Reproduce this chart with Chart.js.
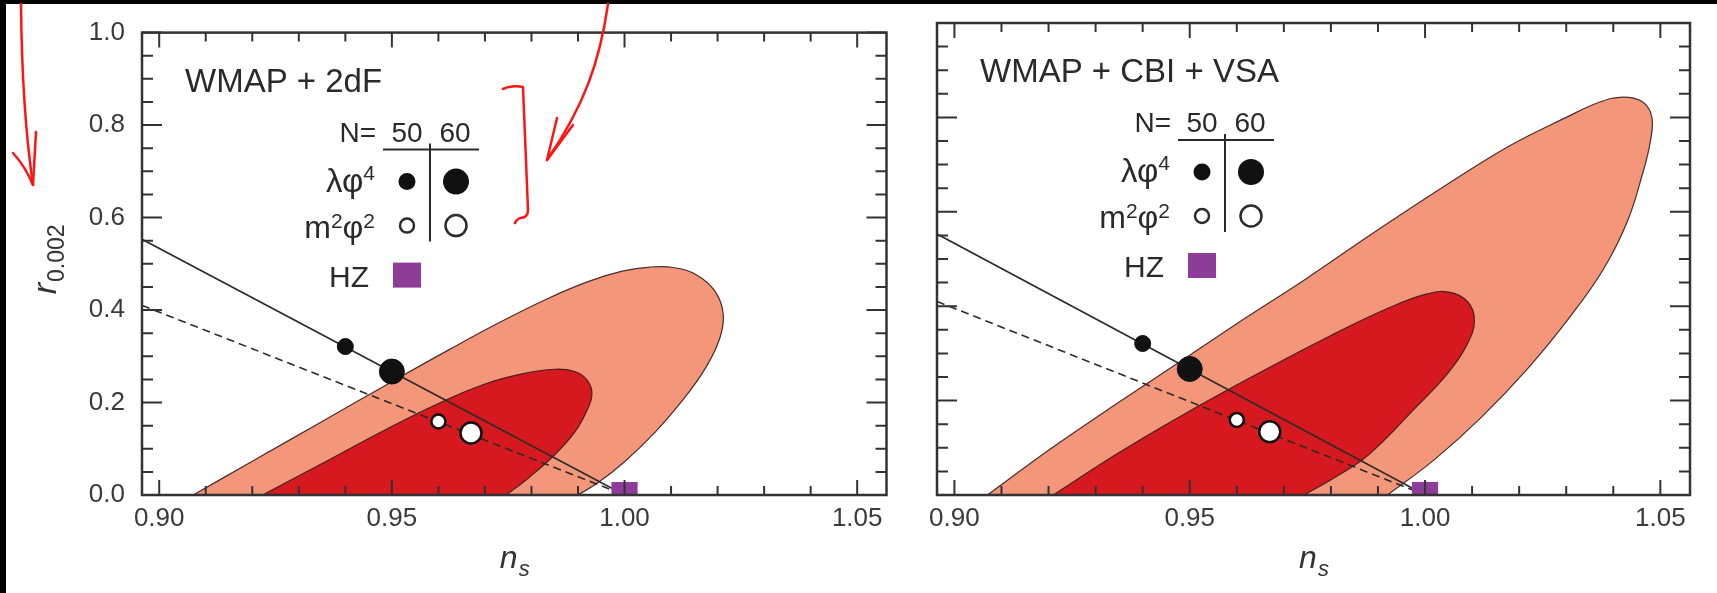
<!DOCTYPE html>
<html>
<head>
<meta charset="utf-8">
<title>Tensor-to-scalar ratio vs spectral index</title>
<script src="https://cdn.jsdelivr.net/npm/chart.js@4.4.0/dist/chart.umd.min.js"></script>
<style>
  body { margin: 0; background: #fff; }
  #wrap { position: relative; width: 1717px; height: 593px; overflow: hidden; background: #fff; }
  #left { position: absolute; left: 0; top: 0; }
  #right { position: absolute; left: 900px; top: 0; }
  .edge { position: absolute; background: #000; }
  svg.ink { position: absolute; left: 0; top: 0; }
</style>
</head>
<body>
<div id="wrap">
  <canvas id="left" width="905" height="593"></canvas>
  <canvas id="right" width="817" height="593"></canvas>
  <div class="edge" style="left:0;top:0;width:1717px;height:4px"></div>
  <div class="edge" style="left:0;top:0;width:6px;height:593px"></div>
  <!-- red pen markup -->
  <svg class="ink" width="1717" height="593" fill="none" stroke="#ff1414" stroke-width="2.5" stroke-linecap="round" stroke-linejoin="round">
    <path d="M21 4 Q22 110 33 185"/>
    <path d="M13 153 Q25 166 33 185 L36 132"/>
    <path d="M608 4 C600 60 585 105 547 160"/>
    <path d="M557 118 L547 160 L573 125"/>
    <path d="M503 89 Q512 85 523 87 L528 210 Q528 218 520 218 Q516 220 515 223"/>
  </svg>
</div>
<script>
var font = "'Liberation Sans', Arial, Helvetica, sans-serif"
Chart.defaults.font.family = font

var nsRange = [0.8963, 1.0563]
var rRange = [0, 1]
var nsTicks = [0.90, 0.95, 1.00, 1.05]
var rTicks = [0.0, 0.2, 0.4, 0.6, 0.8, 1.0]
var panelTitles = ['WMAP + 2dF', 'WMAP + CBI + VSA']

// lambda phi^4 and m^2 phi^2 predictions, N = 50 and 60 e-folds
var efolds = [50, 60]
var quarticNs = [0.940, 0.950]
var quarticR = [0.321, 0.267]
var quarticSize = [8, 12.5]
var quadraticNs = [0.960, 0.967]
var quadraticR = [0.159, 0.134]
var quadraticSize = [7, 10.5]

// Harrison-Zel'dovich point
var hzNs = [1.0]
var hzR = [0.0]

// model trajectories
var quarticLineNs = [0.8963, 1.0]
var quarticLineR = [0.553, 0.0]
var quadraticLineNs = [0.8963, 1.0]
var quadraticLineR = [0.41, 0.0]

// WMAP + 2dF, 95% and 68% regions
var twoDF95Ns = [0.9073, 0.920, 0.935, 0.950, 0.9626, 0.9733, 0.9833, 0.992, 0.9995, 1.0055, 1.0105, 1.0155, 1.0195, 1.0212, 1.0205, 1.0175, 1.0125, 1.0065, 1.0000, 0.9945, 0.990]
var twoDF95R = [0.0, 0.073, 0.159, 0.245, 0.316, 0.374, 0.424, 0.461, 0.484, 0.493, 0.492, 0.476, 0.440, 0.392, 0.340, 0.276, 0.205, 0.135, 0.072, 0.028, 0.0]
var twoDF68Ns = [0.9222, 0.935, 0.948, 0.960, 0.970, 0.978, 0.985, 0.9893, 0.9920, 0.9930, 0.9918, 0.9893, 0.985, 0.9795, 0.9746]
var twoDF68R = [0.0, 0.068, 0.138, 0.198, 0.240, 0.262, 0.272, 0.267, 0.248, 0.218, 0.180, 0.136, 0.087, 0.038, 0.0]

// WMAP + CBI + VSA, 95% and 68% regions
var cbi95Ns = [0.907, 0.920, 0.935, 0.9476, 0.960, 0.975, 0.990, 1.005, 1.018, 1.030, 1.037, 1.042, 1.0462, 1.0482, 1.0478, 1.0462, 1.043, 1.038, 1.031, 1.022, 1.012, 1.002, 0.992]
var cbi95R = [0.0, 0.095, 0.197, 0.280, 0.363, 0.460, 0.562, 0.660, 0.740, 0.800, 0.832, 0.843, 0.833, 0.800, 0.745, 0.680, 0.580, 0.480, 0.380, 0.270, 0.165, 0.075, 0.0]
var cbi68Ns = [0.921, 0.935, 0.950, 0.965, 0.980, 0.992, 1.000, 1.005, 1.009, 1.0105, 1.009, 1.005, 0.998, 0.988, 0.981, 0.9743]
var cbi68R = [0.0, 0.090, 0.178, 0.260, 0.338, 0.395, 0.425, 0.430, 0.410, 0.370, 0.320, 0.260, 0.185, 0.085, 0.038, 0.0]

var outerColor = 'rgb(243,150,122)'
var innerColor = 'rgb(214,24,31)'
var edgeColor = 'rgba(55,30,30,0.9)'
var ink = '#2b2b2b'
var hzColor = '#8d3c97'

function pts(xs, ys) {
  return xs.map(function (x, i) { return { x: x, y: ys[i] } })
}

function region(ns, r, color, order) {
  return {
    data: pts(ns, r), showLine: true, fill: 'shape', backgroundColor: color,
    borderColor: edgeColor, borderWidth: 1.2, pointRadius: 0, tension: 0.4, order: order
  }
}

// inward ticks on all four sides plus the box
var frame = {
  id: 'frame',
  afterDatasetsDraw: function (chart) {
    var a = chart.chartArea, sx = chart.scales.x, sy = chart.scales.y, c = chart.ctx
    c.save()
    c.strokeStyle = '#333'
    c.lineWidth = 2
    c.beginPath()
    for (var i = 90; i <= 105; i++) {
      var px = sx.getPixelForValue(i / 100), len = i % 5 === 0 ? 15 : 9
      c.moveTo(px, a.bottom); c.lineTo(px, a.bottom - len)
      c.moveTo(px, a.top); c.lineTo(px, a.top + len)
    }
    for (var j = 0; j <= 20; j++) {
      var py = sy.getPixelForValue(j / 20), l2 = j % 4 === 0 ? 20 : 11
      c.moveTo(a.left, py); c.lineTo(a.left + l2, py)
      c.moveTo(a.right, py); c.lineTo(a.right - l2, py)
    }
    c.stroke()
    c.lineWidth = 2.5
    c.strokeRect(a.left, a.top, a.right - a.left, a.bottom - a.top)
    c.restore()
  }
}

function supText(c, parts, right, y) {
  // parts: [text, size, dy]
  var w = 0
  parts.forEach(function (p) { c.font = p[1] + 'px ' + font; w += c.measureText(p[0]).width })
  var x = right - w
  parts.forEach(function (p) {
    c.font = p[1] + 'px ' + font
    c.fillText(p[0], x, y + p[2])
    x += c.measureText(p[0]).width
  })
}

// panel title, key and axis titles
var notes = {
  id: 'notes',
  afterDraw: function (chart) {
    var o = chart.options.plugins.notes
    var a = chart.chartArea, c = chart.ctx
    var L = a.left, T = a.top
    c.save()
    c.fillStyle = '#2a2a2a'
    c.textBaseline = 'alphabetic'
    c.textAlign = 'left'
    c.font = '33px ' + font
    c.fillText(o.title, L + 43, T + 59)

    // key
    c.font = '28px ' + font
    c.textAlign = 'right'
    c.fillText('N=', L + 234, T + 109)
    c.textAlign = 'center'
    c.fillText(String(efolds[0]), L + 265, T + 109)
    c.fillText(String(efolds[1]), L + 313, T + 109)
    c.textAlign = 'left'
    supText(c, [['λφ', 33, 0], ['4', 21, -12]], L + 233, T + 159)
    supText(c, [['m', 32, 0], ['2', 21, -10], ['φ', 32, 0], ['2', 21, -10]], L + 233, T + 205)
    c.font = '30px ' + font
    c.textAlign = 'right'
    c.fillText('HZ', L + 227, T + 254)

    c.strokeStyle = ink
    c.lineWidth = 2
    c.beginPath()
    c.moveTo(L + 241, T + 117); c.lineTo(L + 337, T + 117)
    c.moveTo(L + 288, T + 111); c.lineTo(L + 288, T + 209)
    c.stroke()
    var kx = [L + 265, L + 314]
    for (var k = 0; k < 2; k++) {
      c.fillStyle = '#111'
      c.beginPath(); c.arc(kx[k], T + 149, quarticSize[k] + 0.5, 0, Math.PI * 2); c.fill()
      c.fillStyle = '#fff'
      c.lineWidth = 2.5
      c.beginPath(); c.arc(kx[k], T + 193, quadraticSize[k], 0, Math.PI * 2); c.fill(); c.stroke()
    }
    c.fillStyle = hzColor
    c.fillRect(L + 251, T + 230, 28, 25)

    // x title n_s
    var cx = (a.left + a.right) / 2
    c.fillStyle = '#333'
    c.textAlign = 'left'
    c.font = 'italic 32px ' + font
    var wn = c.measureText('n').width
    c.font = 'italic 22px ' + font
    var ws = c.measureText('s').width
    var x0 = cx - (wn + ws) / 2
    c.font = 'italic 32px ' + font
    c.fillText('n', x0, 568)
    c.font = 'italic 22px ' + font
    c.fillText('s', x0 + wn + 1, 576)

    // y title r_0.002
    if (o.yTitle) {
      c.translate(50, (a.top + a.bottom) / 2 - 4)
      c.rotate(-Math.PI / 2)
      c.font = 'italic 34px ' + font
      var wr = c.measureText('r').width
      c.font = '23px ' + font
      var wsub = c.measureText('0.002').width
      var y0 = -(wr + wsub) / 2
      c.font = 'italic 34px ' + font
      c.fillText('r', y0, 6)
      c.font = '23px ' + font
      c.fillText('0.002', y0 + wr + 1, 14)
    }
    c.restore()
  }
}

function panel(id, title, c95, c68, yWidth, padRight, showY) {
  return new Chart(document.getElementById(id), {
    type: 'scatter',
    data: {
      datasets: [
        { data: pts(hzNs, hzR), pointStyle: 'rect', pointRadius: 18.5, pointBackgroundColor: hzColor,
          pointBorderWidth: 0, clip: 0, order: 0 },
        { data: pts(quarticNs, quarticR), pointRadius: quarticSize, pointBackgroundColor: '#111',
          pointBorderColor: '#111', pointBorderWidth: 1, order: 1 },
        { data: pts(quadraticNs, quadraticR), pointRadius: quadraticSize, pointBackgroundColor: '#fff',
          pointBorderColor: '#111', pointBorderWidth: 2.5, order: 1 },
        { data: pts(quarticLineNs, quarticLineR), showLine: true, borderColor: ink, borderWidth: 1.6,
          pointRadius: 0, order: 2 },
        { data: pts(quadraticLineNs, quadraticLineR), showLine: true, borderColor: ink, borderWidth: 1.6,
          borderDash: [8, 5], pointRadius: 0, order: 2 },
        region(c68[0], c68[1], innerColor, 3),
        region(c95[0], c95[1], outerColor, 4)
      ]
    },
    options: {
      responsive: false,
      animation: false,
      events: [],
      layout: { padding: { top: 23, right: padRight, left: 0, bottom: 0 } },
      plugins: {
        legend: { display: false },
        tooltip: { enabled: false },
        notes: { title: title, yTitle: showY }
      },
      scales: {
        x: {
          type: 'linear', min: nsRange[0], max: nsRange[1],
          grid: { display: false, drawTicks: false }, border: { display: false },
          afterBuildTicks: function (s) { s.ticks = nsTicks.map(function (v) { return { value: v } }) },
          afterFit: function (s) { s.height = 98 },
          ticks: { padding: 8, color: '#3a3a3a', font: { size: 26 },
                   callback: function (v) { return v.toFixed(2) } }
        },
        y: {
          type: 'linear', min: rRange[0], max: rRange[1],
          grid: { display: false, drawTicks: false }, border: { display: false },
          afterBuildTicks: function (s) { s.ticks = rTicks.map(function (v) { return { value: v } }) },
          afterFit: function (s) { s.width = yWidth },
          ticks: { display: showY, padding: 17, color: '#3a3a3a', font: { size: 26 },
                   callback: function (v) { return v.toFixed(1) } }
        }
      }
    },
    plugins: [frame, notes]
  })
}

panel('left', panelTitles[0], [twoDF95Ns, twoDF95R], [twoDF68Ns, twoDF68R], 142, 9, true)
panel('right', panelTitles[1], [cbi95Ns, cbi95R], [cbi68Ns, cbi68R], 37, 27, false)
</script>
</body>
</html>
